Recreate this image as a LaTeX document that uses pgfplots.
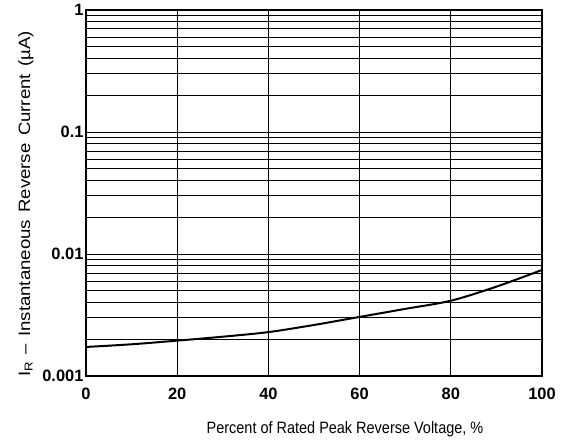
\documentclass[border=0pt]{standalone}
\usepackage{pgfplots}
\pgfplotsset{compat=1.18}
\usepackage{fontspec}
\setmainfont{Liberation Sans}
\newfontfamily\narrowfont[FakeStretch=0.88,Ligatures=TeX]{Liberation Sans}
\newfontfamily\widefont[FakeStretch=1.13,Ligatures=TeX]{Liberation Sans}
\begin{document}
\begin{tikzpicture}[x=1bp,y=1bp]
\path[use as bounding box] (-86,-67) rectangle (488,376);
\begin{axis}[
  at={(0,0)}, anchor=south west,
  scale only axis,
  width=456bp, height=366bp,
  xmin=0, xmax=100,
  ymode=log, ymin=0.001, ymax=1,
  xtick={0,20,40,60,80,100},
  ytick={0.001,0.01,0.1,1},
  yticklabels={0.001,0.01,0.1,1},
  minor ytick={0.002,0.003,0.004,0.005,0.006,0.007,0.008,0.009,0.02,0.03,0.04,0.05,0.06,0.07,0.08,0.09,0.2,0.3,0.4,0.5,0.6,0.7,0.8,0.9},
  xmajorgrids, ymajorgrids, yminorgrids,
  major grid style={black, line width=0.8pt},
  minor grid style={black, line width=0.8pt},
  axis line style={black, line width=1.4pt},
  major tick length=0pt, minor tick length=0pt,
  /pgf/number format/assume math mode=true,
  tick label style={font=\fontsize{16.5}{19}\selectfont\bfseries},
  yticklabel style={xshift=1bp},
  xticklabel style={yshift=-8bp},
  xlabel={\narrowfont\fontsize{16.5}{19}\selectfont Percent of Rated Peak Reverse Voltage, \%},
  ylabel={\widefont\fontsize{16.5}{18}\selectfont\spaceskip=0.45em plus 0.1em\relax I\textsubscript{R} \textendash{} Instantaneous Reverse Current (\textmu A)},
  xlabel style={at={(ticklabel cs:0.568)}, yshift=-16bp},
  ylabel style={at={(ticklabel cs:0.47)}, yshift=2bp},
]
\addplot[black, line width=2pt, smooth] coordinates {
(0,0.00173) (10,0.00182) (20,0.00195) (30,0.00210) (40,0.00229) (50,0.00262) (60,0.00305) (70,0.00355) (80,0.00414) (90,0.0054) (100,0.0074)
};
\end{axis}
\end{tikzpicture}
\end{document}
